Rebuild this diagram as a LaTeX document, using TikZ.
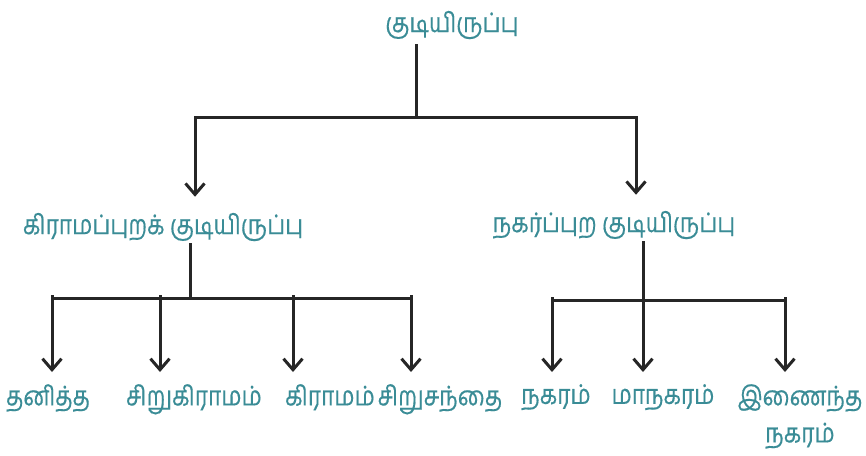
\documentclass[tikz,border=0pt]{standalone}
\usepackage{tikz}
\usepackage{tkz-euclide}
\usepackage{fontspec}
\newfontfamily\tamilfont[Script=Tamil,FakeStretch=0.84,FakeBold=0.4]{Hind Madurai}
\usetikzlibrary{arrows.meta,calc}
\definecolor{kudiTeal}{RGB}{58,140,150}

\begin{document}
\begin{tikzpicture}[x=1pt,y=-1pt,
    lbl/.style={font=\tamilfont\fontsize{27}{37}\selectfont,text=kudiTeal,inner sep=0pt,align=center},
    leaf/.style={lbl,anchor=north},
    link/.style={line width=3pt,draw=black!85},
    arr/.style={link,-{Straight Barb[length=11pt,width=19pt]}}]
    \useasboundingbox (0,0) rectangle (866,455);
    \node[lbl] (settle) at (452,25) {குடியிருப்பு};
    \node[lbl] (rural) at (163,227) {கிராமப்புறக் குடியிருப்பு};
    \node[lbl] (urban) at (614,225) {நகர்ப்புற குடியிருப்பு};
    \node[leaf] (tanitta) at (48,384) {தனித்த};
    \node[leaf] (sirukiramam) at (194,384) {சிறுகிராமம்};
    \node[leaf] (kiramam) at (330,384) {கிராமம்};
    \node[leaf] (sirusantai) at (440,384) {சிறுசந்தை};
    \node[leaf] (nagaram) at (556,384) {நகரம்};
    \node[leaf] (managaram) at (663,384) {மாநகரம்};
    \node[leaf] (inainta) at (800,384) {இணைந்த\\நகரம்};
    \tkzDefPoint(416,117){J}
    \tkzDefPoint(195,117){J_l}
    \tkzDefPoint(636,117){J_r}
    \tkzDefPoint(190,298){K}
    \tkzDefPoint(52,298){K_1}
    \tkzDefPoint(160,298){K_2}
    \tkzDefPoint(293,298){K_3}
    \tkzDefPoint(411,298){K_4}
    \tkzDefPoint(552,300){M_1}
    \tkzDefPoint(643,300){M_2}
    \tkzDefPoint(785,300){M_3}
    \draw[link,shorten <=5pt] (settle.south -| J) -- (J);
    \draw[arr,shorten >=16pt] (J) -| (rural.north -| J_l);
    \draw[arr,shorten >=16pt] (J) -| (urban.north -| J_r);
    \draw[link,shorten <=2pt] (rural.south -| K) -- (K);
    \draw[link] (K_1) -- (K_4);
    \foreach \p/\n in {K_1/tanitta,K_2/sirukiramam,K_3/kiramam,K_4/sirusantai}
      \draw[arr,shorten >=12pt] ($(\p)+(0,-3)$) -- (\n.north -| \p);
    \draw[link] (M_1) -- (M_3);
    \draw[arr,shorten <=2pt,shorten >=12pt] (urban.south -| M_2) -- (managaram.north -| M_2);
    \draw[arr,shorten >=12pt] ($(M_1)+(0,-3)$) -- (nagaram.north -| M_1);
    \draw[arr,shorten >=12pt] ($(M_3)+(0,-3)$) -- (inainta.north -| M_3);
  \end{tikzpicture}
\end{document}
